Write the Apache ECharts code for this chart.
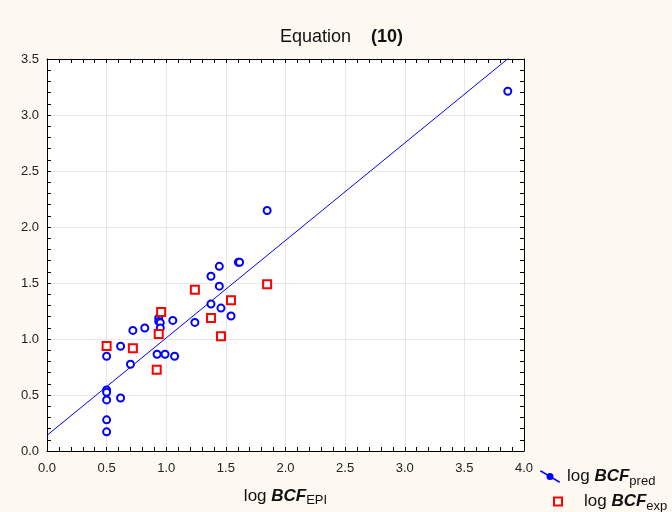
<!DOCTYPE html>
<html>
<head>
<meta charset="utf-8">
<script src="https://cdn.jsdelivr.net/npm/echarts@6/dist/echarts.min.js"></script>
<style>
  html, body { margin: 0; padding: 0; background: #fdf9f0; }
  #chart { width: 672px; height: 512px; }
</style>
</head>
<body>
<div id="chart"></div>
<script>
// log BCF_pred against log BCF_EPI
var predX = [0.5, 0.5, 0.5, 0.5, 0.5, 0.5, 0.617, 0.617, 0.70, 0.72, 0.82, 0.923, 0.99, 1.07,
  0.937, 0.937, 0.95, 0.95, 1.055, 1.24, 1.375, 1.375, 1.445, 1.445, 1.459, 1.543, 1.605, 1.615, 1.846, 3.864];
var predY = [0.846, 0.545, 0.524, 0.456, 0.278, 0.171, 0.935, 0.473, 0.775, 1.077, 1.098, 0.864, 0.864, 0.846,
  1.187, 1.157, 1.145, 1.098, 1.166, 1.148, 1.56, 1.312, 1.649, 1.472, 1.276, 1.205, 1.685, 1.685, 2.147, 3.212];
// log BCF_exp
var expX = [0.5, 0.72, 0.92, 0.937, 0.957, 1.24, 1.375, 1.459, 1.543, 1.846];
var expY = [0.938, 0.917, 0.725, 1.045, 1.24, 1.439, 1.187, 1.024, 1.347, 1.489];
// fitted line
var fitX = [0, 4];
var fitY = [0.14, 3.62];

function pairs(xs, ys) {
  return xs.map(function (x, i) { return [x, ys[i]]; });
}

var myChart = echarts.init(document.getElementById('chart'));

var tickStyle = { inside: true, length: 4, lineStyle: { color: '#000' } };
var minorStyle = { show: true, splitNumber: 5, length: 4, lineStyle: { color: '#000' } };
var lineBlack = { show: true, onZero: false, lineStyle: { color: '#000', width: 1 } };
var labelFmt = function (v) { return v.toFixed(1); };
function subRich(pad) {
  return {
    n: { fontSize: 17, color: '#111', fontFamily: 'Liberation Sans', padding: [0, 0, 0, pad] },
    b: { fontSize: 17, color: '#111', fontWeight: 'bold', fontStyle: 'italic', fontFamily: 'Liberation Sans' },
    s: { fontSize: 13, color: '#111', fontFamily: 'Liberation Sans', padding: [9, 0, 0, 0] }
  };
}

myChart.setOption({
  backgroundColor: '#fdf9f0',
  animation: false,
  title: {
    text: '{n|Equation}{b|(10)}',
    left: 275,
    top: 23,
    textStyle: {
      fontWeight: 'normal',
      rich: {
        n: { fontSize: 18, color: '#111', fontWeight: 'normal', fontFamily: 'Liberation Sans' },
        b: { fontSize: 18, color: '#111', fontWeight: 'bold', fontFamily: 'Liberation Sans', padding: [0, 0, 0, 20] }
      }
    }
  },
  grid: { left: 47, top: 59, right: 148, bottom: 59, show: true, backgroundColor: '#fff', borderWidth: 0 },
  legend: [{
    data: ['pred'],
    left: 535,
    top: 463,
    itemWidth: 20,
    itemHeight: 12,
    icon: 'path://M0,0 L3,0 L40,22 L40,24 L37,24 L0,2 Z M20,5 A7,7 0 1 1 20,19 A7,7 0 1 1 20,5 Z',
    itemStyle: { color: '#0000ff', borderWidth: 0 },
    formatter: function () { return '{n|log }{b|BCF}{s|pred}'; },
    textStyle: { rich: subRich(2) }
  }, {
    data: ['exp'],
    left: 548,
    top: 488,
    itemWidth: 8,
    itemHeight: 8,
    formatter: function () { return '{n|log }{b|BCF}{s|exp}'; },
    textStyle: { rich: subRich(17) }
  }],
  xAxis: [{
    type: 'value', min: 0, max: 4, interval: 0.5,
    name: '{n|log }{b|BCF}{s|EPI}',
    nameLocation: 'middle',
    nameGap: 34,
    nameTextStyle: { rich: subRich(0) },
    axisLine: lineBlack,
    axisTick: tickStyle,
    minorTick: minorStyle,
    axisLabel: { formatter: labelFmt, color: '#222', fontSize: 13, fontFamily: 'Liberation Sans', margin: 11 },
    splitLine: { show: true, lineStyle: { color: '#e8e8e8' } }
  }, {
    type: 'value', min: 0, max: 4, interval: 0.5, position: 'top',
    axisLine: lineBlack,
    axisTick: tickStyle,
    minorTick: minorStyle,
    axisLabel: { show: false },
    splitLine: { show: false }
  }],
  yAxis: [{
    type: 'value', min: 0, max: 3.5, interval: 0.5,
    axisLine: lineBlack,
    axisTick: tickStyle,
    minorTick: minorStyle,
    axisLabel: { formatter: labelFmt, color: '#222', fontSize: 13, fontFamily: 'Liberation Sans', margin: 8 },
    splitLine: { show: true, lineStyle: { color: '#e8e8e8' } }
  }, {
    type: 'value', min: 0, max: 3.5, interval: 0.5, position: 'right',
    axisLine: lineBlack,
    axisTick: tickStyle,
    minorTick: minorStyle,
    axisLabel: { show: false },
    splitLine: { show: false }
  }],
  series: [{
    name: 'fit',
    type: 'line',
    data: pairs(fitX, fitY),
    showSymbol: false,
    clip: true,
    lineStyle: { color: '#0000ff', width: 1 },
    z: 2
  }, {
    name: 'pred',
    type: 'scatter',
    data: pairs(predX, predY),
    symbol: 'circle',
    symbolSize: 7,
    itemStyle: { color: '#ffffff', borderColor: '#0000ff', borderWidth: 2, opacity: 1 },
    z: 3
  }, {
    name: 'exp',
    type: 'scatter',
    data: pairs(expX, expY),
    symbol: 'rect',
    symbolSize: 8,
    itemStyle: { color: '#ffffff', borderColor: '#ff0000', borderWidth: 2, opacity: 1 },
    z: 4
  }]
});
</script>
</body>
</html>
